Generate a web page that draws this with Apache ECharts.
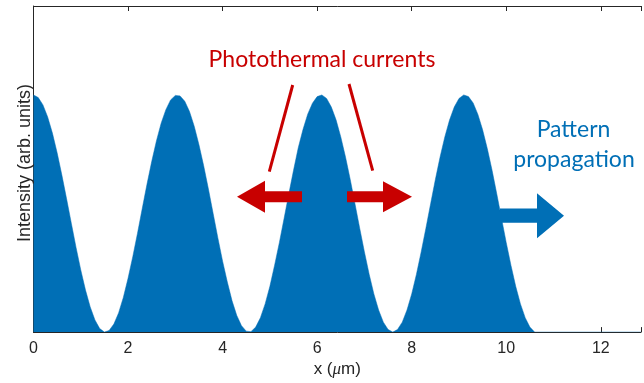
<!DOCTYPE html>
<html>
<head>
<meta charset="utf-8">
<script src="https://cdn.jsdelivr.net/npm/echarts@6/dist/echarts.min.js"></script>
<style>html,body{margin:0;padding:0;background:#fff}#c{width:644px;height:383px}</style>
</head>
<body>
<div id="c"></div>
<script>
// x positions (µm) and intensity (peak = 1)
const xs = [0,0.1,0.2,0.3,0.4,0.5,0.6,0.7,0.8,0.9,1.0,1.1,1.2,1.3,1.4,1.5,1.6,1.7,1.8,1.9,
  2.0,2.1,2.2,2.3,2.4,2.5,2.6,2.7,2.8,2.9,3.0,3.1,3.2,3.3,3.4,3.5,3.6,3.7,3.8,3.9,
  4.0,4.1,4.2,4.3,4.4,4.5,4.6,4.7,4.8,4.9,5.0,5.1,5.2,5.3,5.4,5.5,5.6,5.7,5.8,5.9,
  6.0,6.1,6.2,6.3,6.4,6.5,6.6,6.7,6.8,6.9,7.0,7.1,7.2,7.3,7.4,7.5,7.6,7.7,7.8,7.9,
  8.0,8.1,8.2,8.3,8.4,8.5,8.6,8.7,8.8,8.9,9.0,9.1,9.2,9.3,9.4,9.5,9.6,9.7,9.8,9.9,
  10.0,10.1,10.2,10.3,10.4,10.5,10.6,11.0,12.0,12.85];
const intensity = [1.000,0.989,0.958,0.907,0.839,0.756,0.662,0.562,0.459,0.357,0.262,0.177,0.106,0.051,0.015,0.000,0.007,0.034,0.081,0.146,
  0.227,0.318,0.417,0.521,0.623,0.719,0.806,0.881,0.938,0.979,0.998,0.996,0.973,0.930,0.868,0.790,0.701,0.603,0.500,0.397,
  0.299,0.211,0.132,0.070,0.027,0.004,0.002,0.021,0.061,0.119,0.193,0.282,0.377,0.479,0.582,0.682,0.777,0.854,0.919,0.965,
  0.993,1.000,0.985,0.949,0.895,0.823,0.738,0.643,0.541,0.438,0.338,0.244,0.161,0.093,0.042,0.011,0.000,0.011,0.042,0.093,
  0.161,0.244,0.338,0.438,0.541,0.643,0.738,0.823,0.894,0.949,0.985,1.000,0.993,0.966,0.918,0.853,0.773,0.682,0.582,0.479,
  0.377,0.281,0.193,0.119,0.061,0.021,0.000,0,0,0];
const xTicks = [0,2,4,6,8,10,12];

const BLUE = '#006fb6', RED = '#c80000', AX = '#262626';
const chart = echarts.init(document.getElementById('c'), null, {renderer:'canvas'});
const data = xs.map((x,i)=>[x,intensity[i]]);
const common = {type:'value', min:0, max:12.85, interval:2, splitLine:{show:false}};
chart.setOption({
  animation:false,
  grid:{left:33.5, top:6, bottom:47, width:612.6},
  xAxis:[
    Object.assign({}, common, {position:'bottom',
      axisLine:{show:true, lineStyle:{color:AX, width:1}},
      axisTick:{show:true, inside:true, length:5, lineStyle:{color:AX}},
      axisLabel:{show:true, color:AX, fontFamily:'Liberation Sans', fontSize:16, margin:8,
        formatter:v=>xTicks.indexOf(v)>=0?String(v):''},
      name:'{n|x (}{i|μ}{n|m)}', nameLocation:'middle', nameGap:17,
      nameTextStyle:{rich:{
        n:{color:AX, fontFamily:'Liberation Sans', fontSize:17},
        i:{color:AX, fontFamily:'Liberation Serif', fontStyle:'italic', fontSize:17}}}}),
    Object.assign({}, common, {position:'top',
      axisLine:{show:true, lineStyle:{color:AX, width:1}},
      axisTick:{show:true, inside:true, length:5, lineStyle:{color:AX}},
      axisLabel:{show:false}})
  ],
  yAxis:{type:'value', min:0, max:1.375,
    axisLine:{show:true, lineStyle:{color:AX, width:1}},
    axisTick:{show:false}, axisLabel:{show:false}, splitLine:{show:false}},
  series:[{type:'line', data:data, smooth:false, showSymbol:false, xAxisIndex:0,
    lineStyle:{width:0.5, color:BLUE}, areaStyle:{color:BLUE, opacity:1}, z:2}],
  graphic:[
    {type:'text', x:25, y:163, rotation:Math.PI/2, style:{text:'Intensity (arb. units)', fill:AX, font:'18px "Liberation Sans"', textAlign:'center', textVerticalAlign:'middle'}, z:10},
    {type:'text', x:322, y:48.5, style:{text:'Photothermal currents', fill:RED, font:'23px Lato', textAlign:'center', textVerticalAlign:'top'}, z:10},
    {type:'text', x:573.5, y:118.5, style:{text:'Pattern', fill:BLUE, font:'23px Lato', textAlign:'center', textVerticalAlign:'top'}, z:10},
    {type:'text', x:574, y:148.5, style:{text:'propagation', fill:BLUE, font:'23px Lato', textAlign:'center', textVerticalAlign:'top'}, z:10},
    {type:'line', shape:{x1:292.7,y1:85,x2:269.3,y2:171.7}, style:{stroke:RED, lineWidth:3}, z:10},
    {type:'line', shape:{x1:349,y1:84,x2:372.7,y2:170.7}, style:{stroke:RED, lineWidth:3}, z:10},
    {type:'polygon', shape:{points:[[237,196.7],[265,180.7],[265,191.2],[302,191.2],[302,202.2],[265,202.2],[265,212.7]]}, style:{fill:RED}, z:10},
    {type:'polygon', shape:{points:[[412,196.7],[383,181.2],[383,191.2],[347,191.2],[347,202.2],[383,202.2],[383,212.2]]}, style:{fill:RED}, z:10},
    {type:'polygon', shape:{points:[[564,215.7],[537,193.3],[537,208.5],[500,208.5],[500,222.7],[537,222.7],[537,238.3]]}, style:{fill:BLUE}, z:10}
  ]
});
</script>
</body>
</html>
